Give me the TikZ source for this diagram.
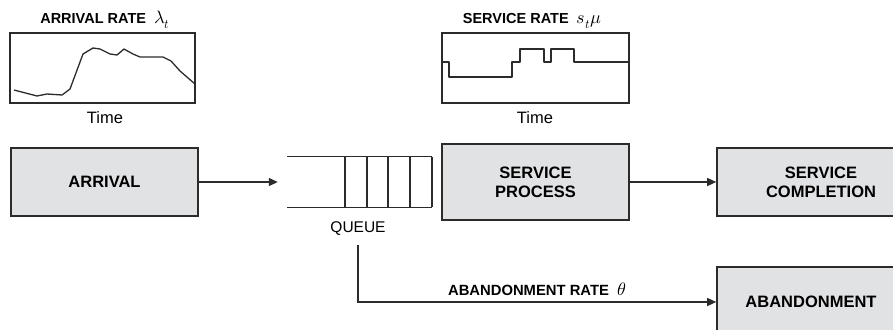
\documentclass[tikz,border=0pt]{standalone}
\usepackage{unicode-math}
\setmainfont{Liberation Sans}
\setmathfont{Latin Modern Math}
\usetikzlibrary{arrows.meta}
\definecolor{boxfill}{HTML}{E1E2E4}
\definecolor{linecol}{HTML}{2B2B2B}
\newcommand{\bigmath}[1]{{\fontsize{18}{20}\selectfont$#1$}}
\begin{document}
\begin{tikzpicture}[x=1pt,y=-1pt,
  procbox/.style={draw=linecol,line width=1.6pt,fill=boxfill,inner sep=0pt,align=center,
     font=\fontsize{16.5}{19}\selectfont\bfseries},
  plotbox/.style={draw=linecol,line width=1.6pt,inner sep=0pt},
  ttl/.style={font=\fontsize{14.5}{17}\selectfont\bfseries,inner sep=0pt},
  lbl/.style={font=\fontsize{16.5}{19}\selectfont,inner sep=0pt},
  conn/.style={draw=linecol,line width=1.3pt,-{Triangle[length=9pt,width=8pt]}},
  curve/.style={draw=linecol,line width=1.3pt,line join=round}]
\useasboundingbox (0,0) rectangle (893,329);

% plots
\node[plotbox,minimum width=185,minimum height=70] (arrplot) at (102.5,68) {};
\node[ttl,anchor=base] (arrttl) at (105,24) {ARRIVAL RATE\ \ \bigmath{\lambda_t}};
\node[lbl] (arrtime) at (105,118) {Time};
\draw[curve] (14,90) -- (37,96) -- (47,94) -- (62,95) -- (70,89) -- (83,54) -- (93,48)
  -- (100,49) -- (110,54) -- (117,55) -- (124,49) -- (133,54) -- (140,57) -- (148,57)
  -- (163,57) -- (171,61) -- (180,71) -- (195,84);

\node[plotbox,minimum width=187,minimum height=70] (srvplot) at (535.5,68) {};
\node[ttl,anchor=base] (srvttl) at (532,24) {SERVICE RATE\ \ \bigmath{s_t\mu}};
\node[lbl] (srvtime) at (535,118) {Time};
\draw[curve] (442,62) -- (449,62) -- (449,77) -- (512,77) -- (512,62) -- (520,62) -- (520,49)
  -- (544,49) -- (544,62) -- (551,62) -- (551,49) -- (574,49) -- (574,62) -- (629,62);

% boxes
\node[procbox,minimum width=187,minimum height=68] (arrival) at (104.5,182) {ARRIVAL};
\node[procbox,minimum width=187,minimum height=76] (service) at (535.5,182) {SERVICE\\PROCESS};
\node[procbox,minimum width=208,minimum height=68] (complete) at (821,182) {SERVICE\\COMPLETION};
\node[procbox,minimum width=188,minimum height=70] (abandon) at (811,302) {ABANDONMENT};

% queue
\node[inner sep=0pt,minimum width=145,minimum height=50] (queue) at (359.5,182) {};
\draw[draw=linecol,line width=1.3pt] (queue.north west) -- (queue.north east)
  (queue.south west) -- (queue.south east);
\foreach \x in {345,367,388,410,432}
  \draw[draw=linecol,line width=1.5pt] (\x,157) -- (\x,207);
\node[lbl,font=\fontsize{15.5}{18}\selectfont] (qlabel) at (358,229) {QUEUE};
\coordinate (qdown) at (358,245);

% connectors
\draw[conn] (arrival.east) -- ([xshift=-9pt]queue.west);
\draw[conn] (service.east) -- (complete.west);
\draw[conn] (qdown) |- (abandon.west);
\node[ttl,anchor=base,font=\fontsize{14.8}{17}\selectfont\bfseries] (abrate) at (537,295) {ABANDONMENT RATE\ \ \bigmath{\theta}};
\end{tikzpicture}
\end{document}
